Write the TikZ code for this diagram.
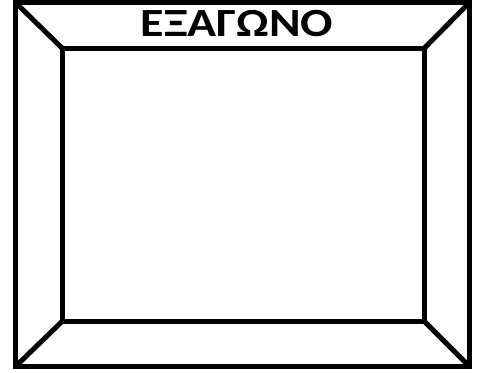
\documentclass[tikz,border=0pt]{standalone}
\usepackage{graphicx}
\usepackage{fontspec}
\setmainfont{Carlito}
\begin{document}
\begin{tikzpicture}[x=1pt,y=-1pt,
  frame/.style={draw=black,line width=5pt,line join=miter},
  edge/.style={draw=black,line width=5pt,line cap=butt}]
\useasboundingbox (0,0) rectangle (481,372);
\coordinate (o1) at (15.5,2.5);
\coordinate (o2) at (469.5,2.5);
\coordinate (o3) at (469.5,366.5);
\coordinate (o4) at (15.5,366.5);
\coordinate (i1) at (62,48);
\coordinate (i2) at (424.5,48);
\coordinate (i3) at (424.5,321.5);
\coordinate (i4) at (62,321.5);
\path[frame] (o1) -- (o2) -- (o3) -- (o4) -- cycle;
\path[frame] (i1) -- (i2) -- (i3) -- (i4) -- cycle;
\path[edge] (o1) -- (i1);
\path[edge] (o2) -- (i2);
\path[edge] (o3) -- (i3);
\path[edge] (o4) -- (i4);
\node[inner sep=0pt,anchor=base] (t) at (237,36) {\scalebox{1.2}[1]{\fontsize{40}{42}\selectfont\bfseries ΕΞΑΓΩΝΟ}};
\end{tikzpicture}
\end{document}
